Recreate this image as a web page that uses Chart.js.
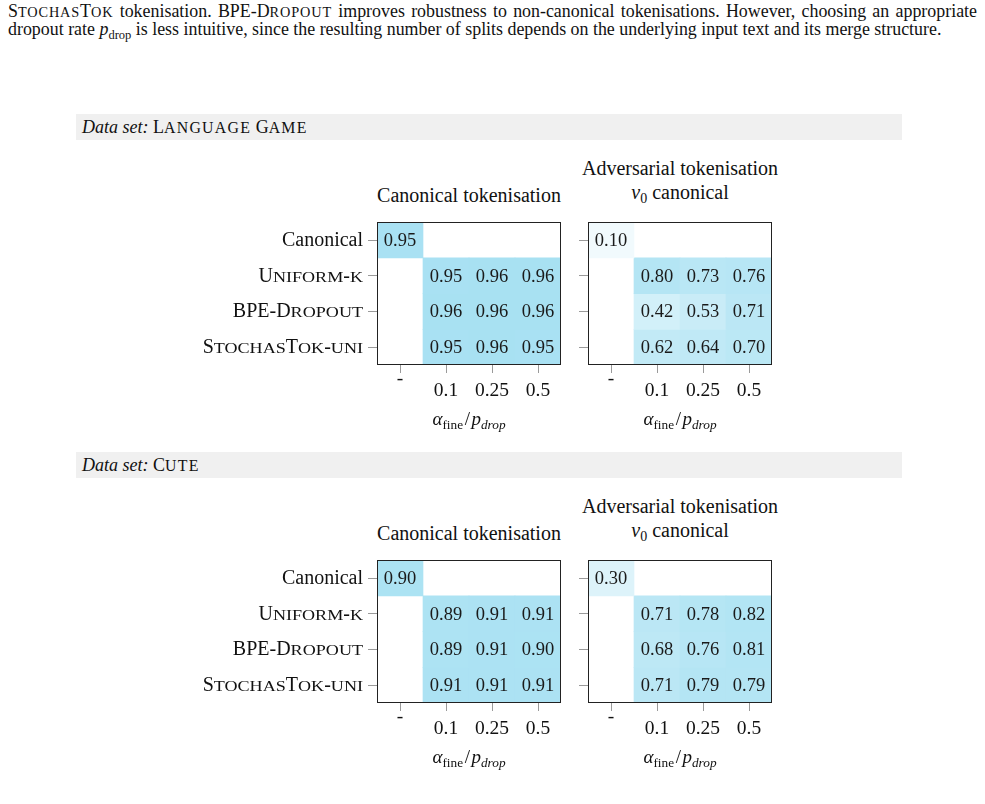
<!DOCTYPE html>
<html>
<head>
<meta charset="utf-8">
<script src="https://cdn.jsdelivr.net/npm/chart.js@4"></script>
<style>
  body { margin: 0; width: 985px; height: 804px; position: relative; overflow: hidden; background: #fff;
         font-family: 'Liberation Serif', serif; color: #111; }
  .line { position: absolute; left: 8px; width: 969px; font-size: 17.9px; line-height: 18px; white-space: nowrap; }
  .line.just { text-align: justify; text-align-last: justify; white-space: normal; }
  .sc { font-size: 0.8em; letter-spacing: 0.06em; }
  sub { font-size: 70%; line-height: 0; vertical-align: -0.3em; }
  .band { position: absolute; left: 76px; width: 826px; height: 26px; background: #f0f0f0; font-size: 18px;
          line-height: 27px; padding-left: 6px; box-sizing: border-box; }
  .band .sc { font-size: 0.88em; letter-spacing: 0.08em; }
  .ttl { position: absolute; font-size: 20px; line-height: 24px; transform: translate(-50%, -50%); white-space: nowrap; text-align: center; }
  .axt { position: absolute; font-size: 19px; transform: translate(-50%, -50%); white-space: nowrap; }
  .axt .sl { margin: 0 0.08em; }
  canvas { position: absolute; }
</style>
</head>
<body>
<div class="line just" style="top:2px">S<span class="sc">TOCHAS</span>T<span class="sc">OK</span> tokenisation. BPE-D<span class="sc">ROPOUT</span> improves robustness to non-canonical tokenisations. However, choosing an appropriate</div>
<div class="line" style="top:20px">dropout rate <i>p</i><sub>drop</sub> is less intuitive, since the resulting number of splits depends on the underlying input text and its merge structure.</div>

<div class="band" style="top:114px"><i>Data set:</i> L<span class="sc">ANGUAGE</span> G<span class="sc">AME</span></div>
<div class="ttl" style="left:469px;top:195px">Canonical tokenisation</div>
<div class="ttl" style="left:680px;top:180px">Adversarial tokenisation<br><i>v</i><sub>0</sub> canonical</div>
<canvas id="lgCan" width="380" height="200" style="left:190px;top:210px"></canvas>
<canvas id="lgAdv" width="210" height="200" style="left:570px;top:210px"></canvas>
<div class="axt" style="left:469px;top:419px"><i>α</i><sub>fine</sub><span class="sl">/</span><i>p</i><sub><i>drop</i></sub></div>
<div class="axt" style="left:680px;top:419px"><i>α</i><sub>fine</sub><span class="sl">/</span><i>p</i><sub><i>drop</i></sub></div>

<div class="band" style="top:452px"><i>Data set:</i> C<span class="sc">UTE</span></div>
<div class="ttl" style="left:469px;top:533px">Canonical tokenisation</div>
<div class="ttl" style="left:680px;top:518px">Adversarial tokenisation<br><i>v</i><sub>0</sub> canonical</div>
<canvas id="cuteCan" width="380" height="200" style="left:190px;top:548px"></canvas>
<canvas id="cuteAdv" width="210" height="200" style="left:570px;top:548px"></canvas>
<div class="axt" style="left:469px;top:757px"><i>α</i><sub>fine</sub><span class="sl">/</span><i>p</i><sub><i>drop</i></sub></div>
<div class="axt" style="left:680px;top:757px"><i>α</i><sub>fine</sub><span class="sl">/</span><i>p</i><sub><i>drop</i></sub></div>

<script>
const columns = ['-', '0.1', '0.25', '0.5'];
const methods = ['Canonical', 'Uniform-k', 'BPE-Dropout', 'StochasTok-uni'];
const methodSmallCaps = [false, true, true, true];

// one row per method, one entry per column (null = not evaluated)
const langCanonical = [
  [0.95, null, null, null],
  [null, 0.95, 0.96, 0.96],
  [null, 0.96, 0.96, 0.96],
  [null, 0.95, 0.96, 0.95]
];
const langAdversarial = [
  [0.10, null, null, null],
  [null, 0.80, 0.73, 0.76],
  [null, 0.42, 0.53, 0.71],
  [null, 0.62, 0.64, 0.70]
];
const cuteCanonical = [
  [0.90, null, null, null],
  [null, 0.89, 0.91, 0.91],
  [null, 0.89, 0.91, 0.90],
  [null, 0.91, 0.91, 0.91]
];
const cuteAdversarial = [
  [0.30, null, null, null],
  [null, 0.71, 0.78, 0.82],
  [null, 0.68, 0.76, 0.81],
  [null, 0.71, 0.79, 0.79]
];

const SERIF = "'Liberation Serif', serif";
Chart.defaults.font.family = SERIF;
Chart.defaults.color = '#111';

// white -> light blue
function cellColour(v) {
  if (v == null) return 'rgba(0,0,0,0)';
  const t = Math.pow(v, 0.8);
  const r = Math.round(255 - t * (255 - 165));
  const g = Math.round(255 - t * (255 - 224));
  const b = Math.round(255 - t * (255 - 242));
  return `rgb(${r},${g},${b})`;
}

// the '-' label sits higher than the numbers, so push the others down a line
const xLabels = columns.map((c, j) => j === 0 ? c : ['', c]);

const cellText = {
  id: 'cellText',
  afterDatasetsDraw(chart) {
    const ctx = chart.ctx;
    ctx.save();
    ctx.font = '18.5px ' + SERIF;
    ctx.fillStyle = '#1a1a1a';
    ctx.textAlign = 'center';
    ctx.textBaseline = 'middle';
    chart.data.datasets.forEach((ds, i) => {
      chart.getDatasetMeta(i).data.forEach((bar, j) => {
        const v = ds.values[j];
        if (v == null) return;
        ctx.fillText(v.toFixed(2), bar.x, (bar.y + bar.base) / 2 + 1);
      });
    });
    const a = chart.chartArea;
    ctx.strokeStyle = '#222';
    ctx.lineWidth = 1;
    ctx.strokeRect(Math.round(a.left) + 0.5, Math.round(a.top) + 0.5,
                   Math.round(a.right - a.left) - 1, Math.round(a.bottom - a.top) - 1);
    ctx.restore();
  }
};

// row names in small caps (lower-case runs drawn as wide, shorter capitals)
const rowLabels = {
  id: 'rowLabels',
  afterDraw(chart, args, opts) {
    if (!opts.show) return;
    const s = chart.scales.y;
    const ctx = chart.ctx;
    const big = '20px ' + SERIF, small = '14.6px ' + SERIF, stretch = 1.24;
    const right = s.right - 9 - 5;
    ctx.save();
    ctx.fillStyle = '#111';
    ctx.textBaseline = 'alphabetic';
    ctx.textAlign = 'left';
    methods.forEach((name, i) => {
      const runs = methodSmallCaps[i]
        ? name.split(/([a-z]+)/).filter(r => r).map(r => /[a-z]/.test(r) ? { t: r.toUpperCase(), sm: true } : { t: r, sm: false })
        : [{ t: name, sm: false }];
      runs.forEach(r => {
        ctx.font = r.sm ? small : big;
        r.w = ctx.measureText(r.t).width * (r.sm ? stretch : 1);
      });
      let x = right - runs.reduce((a, r) => a + r.w, 0);
      const y = s.getPixelForValue(i) + 6;
      runs.forEach(r => {
        ctx.font = r.sm ? small : big;
        if (r.sm) {
          ctx.save();
          ctx.translate(x, y);
          ctx.scale(stretch, 1);
          ctx.fillText(r.t, 0, 0);
          ctx.restore();
        } else {
          ctx.fillText(r.t, x, y);
        }
        x += r.w;
      });
    });
    ctx.restore();
  }
};

function heatmap(id, rows, labelled) {
  const datasets = rows.map((row, i) => ({
    data: row.map(v => v == null ? null : [i - 0.5, i + 0.5]),
    values: row,
    backgroundColor: row.map(cellColour),
    grouped: false,
    barPercentage: 1,
    categoryPercentage: 1,
    borderWidth: 0
  }));
  return new Chart(document.getElementById(id), {
    type: 'bar',
    data: { labels: xLabels, datasets: datasets },
    options: {
      responsive: false,
      animation: false,
      events: [],
      layout: { padding: { top: 9, right: labelled ? 9 : 8, left: 0, bottom: 0 } },
      plugins: { legend: { display: false }, tooltip: { enabled: false }, rowLabels: { show: labelled } },
      scales: {
        x: {
          grid: { offset: false, drawOnChartArea: false, tickLength: 8, color: '#9a9a9a' },
          border: { display: false },
          ticks: { padding: 0, maxRotation: 0, autoSkip: false, font: { size: 19.5, lineHeight: 0.6 } },
          afterFit: s => { s.height = 45; }
        },
        y: {
          type: 'linear',
          reverse: true,
          min: -0.5,
          max: 3.5,
          afterBuildTicks: s => { s.ticks = methods.map((m, i) => ({ value: i })); },
          grid: { drawOnChartArea: false, tickLength: 9, color: '#9a9a9a' },
          border: { display: false },
          ticks: { padding: 5, callback: () => '' },
          afterFit: s => { s.width = labelled ? 187 : 18; }
        }
      }
    },
    plugins: [cellText, rowLabels]
  });
}

heatmap('lgCan', langCanonical, true);
heatmap('lgAdv', langAdversarial, false);
heatmap('cuteCan', cuteCanonical, true);
heatmap('cuteAdv', cuteAdversarial, false);
</script>
</body>
</html>
